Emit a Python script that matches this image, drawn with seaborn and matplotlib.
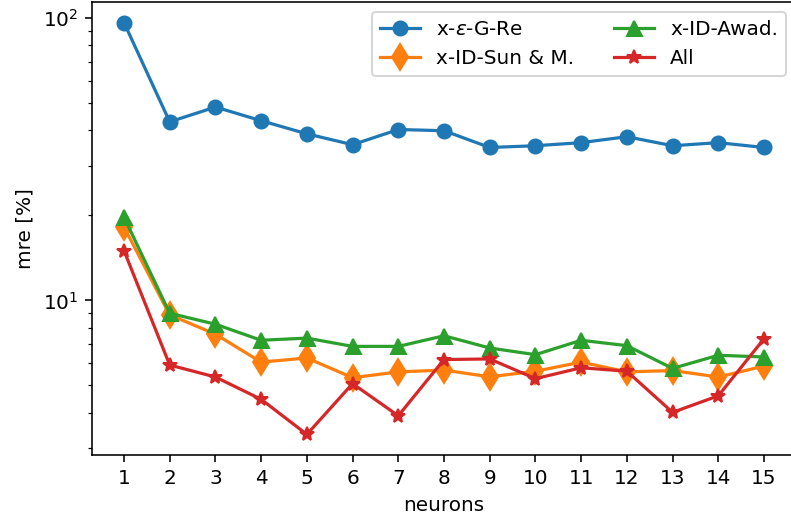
import matplotlib
matplotlib.use("Agg")
import matplotlib.pyplot as plt
import seaborn as sns
import pandas as pd

neurons = list(range(1, 16))

eps_g_re = [96.4, 42.9, 48.4, 43.3, 38.9, 35.6, 40.3, 39.9, 34.8, 35.3, 36.2, 38.0, 35.3, 36.2, 34.8]
id_sun = [18.2, 8.88, 7.59, 6.04, 6.25, 5.32, 5.58, 5.66, 5.36, 5.61, 6.04, 5.58, 5.64, 5.35, 5.85]
id_awad = [19.7, 9.0, 8.23, 7.22, 7.35, 6.87, 6.87, 7.49, 6.78, 6.42, 7.22, 6.91, 5.74, 6.39, 6.30]
all_feats = [15.0, 5.90, 5.35, 4.46, 3.35, 5.07, 3.90, 6.17, 6.20, 5.28, 5.77, 5.61, 4.01, 4.59, 7.31]

series_names = [r"x-$\varepsilon$-G-Re", "x-ID-Sun & M.", "x-ID-Awad.", "All"]
series_values = [eps_g_re, id_sun, id_awad, all_feats]
markers = ["o", "d", "^", "*"]
marker_sizes = [7, 9, 7.5, 7.5]
colors = ["#1f77b4", "#ff7f0e", "#2ca02c", "#d62728"]

plt.rcParams["font.family"] = ["DejaVu Sans"]

fig = plt.figure(figsize=(791 / 144, 526 / 144), dpi=144)
ax = fig.add_axes([92 / 791, 1 - 455 / 526, 704 / 791, 453 / 526])

for name, vals, m, ms, c in zip(series_names, series_values, markers, marker_sizes, colors):
    df = pd.DataFrame({"neurons": neurons, "mre": vals})
    sns.lineplot(data=df, x="neurons", y="mre", marker=m, markersize=ms,
                 color=c, markeredgecolor=c, markeredgewidth=1.0,
                 linewidth=1.6, label=name, ax=ax)

ax.set_yscale("log")
ax.set_xticks(neurons)
ax.set_xlabel("neurons")
ax.set_ylabel("mre [%]")
ax.legend(ncol=2, loc="upper right")

fig.savefig("out.png", dpi=144)
